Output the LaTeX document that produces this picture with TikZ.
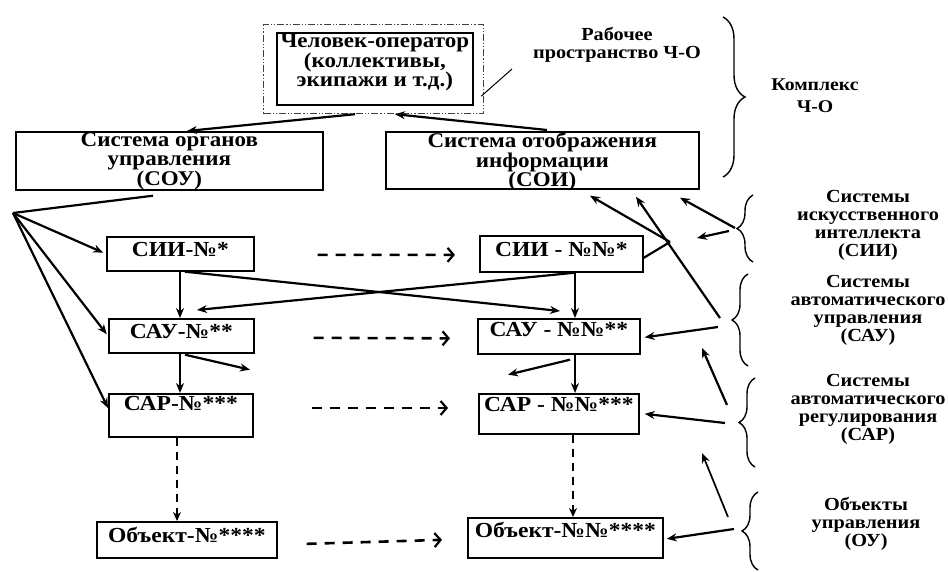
\documentclass[tikz,border=0pt]{standalone}
\usepackage{fontspec}
\setmainfont{Liberation Serif}[FakeStretch=1.1]
\usetikzlibrary{arrows.meta,decorations.pathreplacing,calc}
\begin{document}
\begin{tikzpicture}[x=1bp,y=1bp,
  box/.style={draw, line width=1.7bp, rectangle, inner sep=0pt, anchor=north west},
  btxt/.style={anchor=north, align=center, inner sep=0pt, font=\fontsize{21}{19.5}\selectfont\bfseries},
  stxt/.style={anchor=center, inner sep=0pt, font=\fontsize{21.5}{19}\selectfont\bfseries},
  rtxt/.style={align=center, inner sep=0pt, font=\fontsize{18.5}{18}\selectfont\bfseries},
  arr/.style={line width=2.2bp, -{Stealth[length=10bp,width=8bp]}},
  thinarr/.style={line width=1.7bp, -{Stealth[length=10bp,width=8bp]}},
  harr/.style={line width=2.6bp, dash pattern=on 10bp off 8bp, -{Straight Barb[length=6bp,width=14bp,line width=2.2bp]}},
  varr/.style={line width=2.6bp, dash pattern=on 8bp off 6bp, -{Stealth[length=9bp,width=8bp]}},
  brc/.style={decorate, decoration={brace, amplitude=16bp}, line width=1.4bp},
  opframe/.style={draw=black!75, line width=1.2bp, dash pattern=on 7bp off 2bp on 1.2bp off 2bp on 1.2bp off 2bp, rectangle, inner sep=0pt, anchor=north west},
]
\useasboundingbox (0,0) rectangle (948,-572);

% boxes
\node[opframe, minimum width=220bp, minimum height=89bp] (opws) at (263,-24) {};
\node[box, minimum width=196bp, minimum height=72bp] (op) at (276,-32) {};
\node[box, minimum width=307bp, minimum height=58bp] (sou) at (15,-131) {};
\node[box, minimum width=313bp, minimum height=57bp] (soi) at (385,-131) {};
\node[box, minimum width=147bp, minimum height=34bp] (sii1) at (106,-236) {};
\node[box, minimum width=145bp, minimum height=34bp] (sau1) at (108,-318) {};
\node[box, minimum width=144bp, minimum height=43bp] (sar1) at (108,-393) {};
\node[box, minimum width=180bp, minimum height=36bp] (obj1) at (96,-521) {};
\node[box, minimum width=163bp, minimum height=36bp] (sii2) at (479,-235) {};
\node[box, minimum width=162bp, minimum height=35bp] (sau2) at (477,-318) {};
\node[box, minimum width=160bp, minimum height=40bp] (sar2) at (478,-393) {};
\node[box, minimum width=195bp, minimum height=40bp] (obj2) at (467,-517) {};

% box texts
\node[btxt] (opt) at ($(op.north)+(0,-2)$) {Человек-оператор\\(коллективы,\\экипажи и т.д.)};
\node[btxt] (sout) at ($(sou.north)+(0,-1.5)$) {Система органов\\управления\\(СОУ)};
\node[btxt] (soit) at ($(soi.north)+(0,-1.5)$) {Система отображения\\информации\\(СОИ)};
\node[stxt] (sii1t) at ($(sii1.north)+(0,-14)$) {СИИ-№*};
\node[stxt] (sau1t) at ($(sau1.north)+(0,-14)$) {САУ-№**};
\node[stxt] (sar1t) at ($(sar1.north)+(0,-11)$) {САР-№***};
\node[stxt] (obj1t) at ($(obj1.north)+(0,-14)$) {Объект-№****};
\node[stxt] (sii2t) at ($(sii2.north)+(0,-15)$) {СИИ - №№*};
\node[stxt] (sau2t) at ($(sau2.north)+(0,-12)$) {САУ - №№**};
\node[stxt] (sar2t) at ($(sar2.north)+(0,-12)$) {САР - №№***};
\node[stxt] (obj2t) at ($(obj2.north)+(0,-13)$) {Объект-№№****};

% side texts
\node[rtxt] (ws) at (617,-45) {Рабочее\\пространство Ч-О};
\node[rtxt, font=\fontsize{18}{22}\selectfont\bfseries] (kompl) at (815,-96) {Комплекс\\Ч-О};
\node[rtxt] (siit) at (868,-225) {Системы\\искусственного\\интеллекта\\(СИИ)};
\node[rtxt] (saut) at (868,-310) {Системы\\автоматического\\управления\\(САУ)};
\node[rtxt] (sart) at (868,-409) {Системы\\автоматического\\регулирования\\(САР)};
\node[rtxt] (out) at (866,-524) {Объекты\\управления\\(ОУ)};

% braces
\draw[brc, decoration={amplitude=22bp}] (723,-17) -- (723,-177);
\draw[brc] (753,-262) -- (753,-195);
\draw[brc] (748,-366) -- (748,-274);
\draw[brc] (755,-467) -- (755,-378);
\draw[brc] (758,-570) -- (758,-492);

% named free ends
\coordinate (wsl) at (512,-69);
\coordinate (fan) at (13,-213);
\coordinate (siitip) at (735,-228);
\coordinate (sautip) at (722,-322);
\coordinate (sartip) at (725,-418);
\coordinate (outip) at (734,-532);
\coordinate (bend) at (670,-242);

% top connectors
\draw[line width=1bp] (wsl) -- ($(opws.south east)+(-3,18)$);
\draw[arr] ($(opws.south west)+(92,0)$) -- ($(sou.north west)+(172,0)$);
\draw[arr] ($(soi.north west)+(162,1)$) -- ($(opws.south west)+(132,0)$);

% fan from SOU
\draw[line width=2.2bp] ($(sou.south west)+(138,-5)$) -- (fan);
\draw[arr, shorten >=3bp] (fan) -- (sii1.west);
\draw[arr, shorten >=2bp] (fan) -- (sau1.west);
\draw[arr] (fan) -- ($(sar1.north west)+(0,-15)$);

% left column
\draw[arr] ($(sii1.south west)+(74,0)$) -- ($(sau1.north west)+(72,0)$);
\draw[arr] ($(sau1.south west)+(72,0)$) -- ($(sar1.north west)+(72,0)$);
\draw[varr] ($(sar1.south west)+(69,0)$) -- ($(obj1.north west)+(81,0)$);
\draw[arr] ($(sau1.south west)+(77,-1)$) -- ($(sau1.south west)+(142,-16)$);

% right column
\draw[arr] ($(sii2.south west)+(96,0)$) -- ($(sau2.north west)+(98,0)$);
\draw[arr] ($(sau2.south west)+(98,0)$) -- ($(sar2.north west)+(97,0)$);
\draw[varr] ($(sar2.south west)+(95,0)$) -- ($(obj2.north west)+(106,0)$);
\draw[arr] ($(sau2.south west)+(93,-5)$) -- ($(sau2.south west)+(31,-20)$);

% crossing
\draw[arr] ($(sii1.south west)+(79,0)$) -- ($(sau2.north west)+(83,7)$);
\draw[arr] ($(sii2.south west)+(96,0)$) -- ($(sau1.north west)+(89,8)$);

% dashed horizontal
\draw[harr] ($(sii1.east)+(63,-1)$) -- ($(sii2.west)+(-24,-1)$);
\draw[harr] ($(sau1.east)+(59,-2)$) -- ($(sau2.west)+(-27,-2)$);
\draw[harr] ($(sar1.north east)+(58,-15)$) -- ($(sar2.north west)+(-30,-15)$);
\draw[harr] ($(obj1.east)+(29,-4)$) -- ($(obj2.west)+(-25,-2)$);

% SII-2 to SOI
\draw[line width=2.2bp] ($(sii2.east)+(0,-4)$) -- (bend);
\draw[arr] (bend) -- ($(soi.south west)+(205,-6)$);

% braces arrows
\draw[arr] (siitip) -- ($(soi.south west)+(295,-8)$);
\draw[arr] ($(siitip)+(-6,-3)$) -- ($(siitip)+(-38,-10)$);
\draw[arr] ($(sautip)+(-2,4)$) -- ($(soi.south west)+(251,-7)$);
\draw[arr] ($(sautip)+(-4,-5)$) -- ($(sau2.east)+(4,-1)$);
\draw[arr] ($(sartip)+(0,-5)$) -- ($(sar2.east)+(5,0)$);
\draw[arr] ($(sartip)+(2,13)$) -- ($(sartip)+(-23,70)$);
\draw[arr] ($(outip)+(0,3)$) -- ($(obj2.east)+(3,-1)$);
\draw[thinarr] ($(outip)+(-6,15)$) -- ($(outip)+(-32,79)$);
\end{tikzpicture}
\end{document}
